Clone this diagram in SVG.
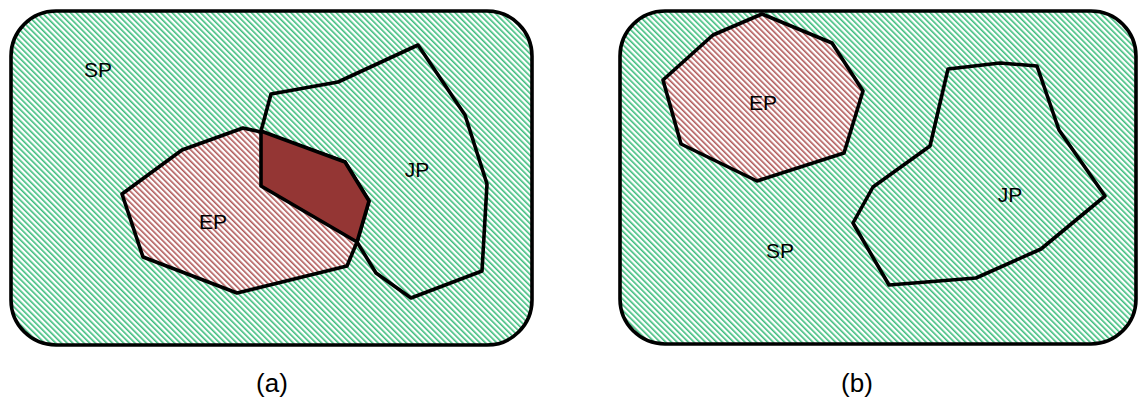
<svg xmlns="http://www.w3.org/2000/svg" width="1139" height="403" viewBox="0 0 1139 403">
<style>
.out{stroke:#000;stroke-width:3.6;stroke-linejoin:round}
.g{fill:url(#hg)}
.r{fill:url(#hr)}
.d{fill:#943634}
text{font-family:"Liberation Sans",Arial,sans-serif;font-size:21px;fill:#000;text-anchor:middle}
.cap{font-size:26px}
</style>
<defs>
<pattern id="hg" patternUnits="userSpaceOnUse" width="4" height="4" patternTransform="rotate(-45)">
<rect width="4" height="4" fill="#fff"/>
<rect width="1.6" height="4" fill="#3dbd7d"/>
</pattern>
<pattern id="hr" patternUnits="userSpaceOnUse" width="4" height="4" patternTransform="rotate(-45)">
<rect width="4" height="4" fill="#fff"/>
<rect width="1.6" height="4" fill="#b05858"/>
</pattern>
</defs>
<g id="panel-a">
<rect id="sp-a" class="out g" x="11" y="11" width="521" height="334" rx="45" ry="45"/>
<polygon id="jp-a" class="out g" points="271,94 338,82 418,45 465,115 487,184 482,271 411,298 376,273 357,242 261,186 261,131"/>
<polygon id="ep-a" class="out r" points="122,194 182,150 243,128 261,132 345,162 369,201 357,242 347,266 237,293 143,257"/>
<polygon id="ov-a" class="out d" points="261,131 345,162 369,201 357,242 261,186"/>
<text x="98" y="77">SP</text>
<text x="213" y="229">EP</text>
<text x="417" y="177">JP</text>
<text class="cap" x="272" y="392">(a)</text>
</g>
<g id="panel-b">
<rect id="sp-b" class="out g" x="620" y="11" width="516" height="333" rx="45" ry="45"/>
<polygon id="ep-b" class="out r" points="762,14 832,43 863,91 844,153 757,181 681,144 663,80 713,35"/>
<polygon id="jp-b" class="out g" points="948,69 1000,63 1037,66 1059,130 1105,196 1041,249 976,278 889,285 853,223 873,187 930,146"/>
<text x="763" y="110">EP</text>
<text x="1010" y="202">JP</text>
<text x="780" y="258">SP</text>
<text class="cap" x="857" y="392">(b)</text>
</g>
<g id="connectors"/>
</svg>
